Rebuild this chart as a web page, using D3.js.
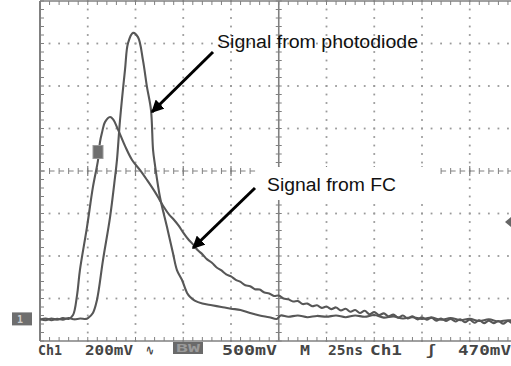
<!DOCTYPE html>
<html>
<head>
<meta charset="utf-8">
<script src="https://cdn.jsdelivr.net/npm/d3@7"></script>
<style>
  html, body { margin: 0; padding: 0; background: #fff; }
  svg { display: block; }
</style>
</head>
<body>
<svg id="chart" width="511" height="366"></svg>
<script>
// ---- data (time in ns, 25 ns/div; amplitude in screen divisions) ----
const photodiodeTime = [0, 3, 6, 9, 12, 15, 18, 21, 24, 25.1, 27.7, 29.8, 33.0, 36.7, 39.3, 40.3, 41.9, 44.5, 46.1, 48.7, 51.3, 53.9, 56.0, 58.1, 59.2, 60.2, 62.8, 66.5, 69.6, 71.7, 74.3, 77.0, 78.5, 81, 85, 90, 95, 100, 105, 110, 115, 120, 124, 126, 130, 135, 140, 145, 150, 155, 160, 165, 170, 175, 180, 185, 190, 195, 200, 205, 210, 215, 220, 225, 230, 235, 240, 245, 250];
const photodiodeDiv  = [0.50, 0.53, 0.49, 0.52, 0.50, 0.54, 0.51, 0.53, 0.52, 0.54, 0.66, 0.96, 1.91, 2.92, 3.86, 4.26, 5.20, 6.38, 7.01, 7.25, 7.15, 6.61, 5.98, 5.44, 4.49, 4.14, 3.39, 2.68, 2.07, 1.67, 1.44, 1.13, 1.04, 0.95, 0.88, 0.84, 0.80, 0.76, 0.73, 0.66, 0.60, 0.56, 0.52, 0.60, 0.57, 0.60, 0.56, 0.59, 0.57, 0.60, 0.56, 0.60, 0.57, 0.61, 0.55, 0.58, 0.53, 0.56, 0.52, 0.55, 0.50, 0.54, 0.49, 0.52, 0.47, 0.51, 0.46, 0.49, 0.46];

const fcTime = [0, 3, 6, 9, 12, 15, 17.3, 19.4, 20.9, 24.6, 27.7, 30.4, 31.4, 32.5, 34.0, 36.7, 38.2, 40.8, 44.5, 48.2, 52.4, 56.0, 60, 62.5, 65, 67.5, 70, 72.5, 75, 77.5, 80, 82.5, 85, 87.5, 90, 92.5, 95, 97.5, 100, 102.5, 105, 107.5, 110, 112.5, 115, 117.5, 120, 122.5, 125, 127.5, 130, 132.5, 135, 137.5, 140, 142.5, 145, 147.5, 150, 152.5, 155, 157.5, 160, 162.5, 165, 167.5, 170, 172.5, 175, 177.5, 180, 182.5, 185, 187.5, 190, 192.5, 195, 197.5, 200, 202.5, 205, 207.5, 210, 212.5, 215, 217.5, 220, 222.5, 225, 227.5, 230, 232.5, 235, 237.5, 240, 242.5, 245, 247.5, 250];
const fcDiv  = [0.52, 0.49, 0.53, 0.50, 0.54, 0.52, 0.61, 1.08, 1.67, 2.68, 3.62, 4.26, 4.68, 4.91, 5.15, 5.27, 5.22, 4.98, 4.59, 4.26, 4.02, 3.79, 3.52, 3.33, 3.14, 2.98, 2.86, 2.72, 2.55, 2.40, 2.28, 2.14, 2.04, 1.92, 1.84, 1.73, 1.66, 1.57, 1.52, 1.44, 1.39, 1.31, 1.29, 1.22, 1.21, 1.14, 1.12, 1.06, 1.07, 1.00, 0.98, 0.93, 0.94, 0.87, 0.88, 0.82, 0.84, 0.78, 0.81, 0.75, 0.79, 0.72, 0.76, 0.69, 0.73, 0.66, 0.71, 0.63, 0.68, 0.61, 0.65, 0.58, 0.62, 0.55, 0.60, 0.53, 0.58, 0.51, 0.56, 0.50, 0.55, 0.48, 0.53, 0.47, 0.52, 0.46, 0.51, 0.44, 0.50, 0.43, 0.49, 0.42, 0.48, 0.42, 0.47, 0.41, 0.47, 0.42, 0.46];

const statusLabels = ["Ch1", "200mV", "\u223F", "500mV", "M", "25ns", "Ch1", "\u0283", "470mV"];
const annotationLabels = ["Signal from photodiode", "Signal from FC"];

// ---- layout ----
const svg = d3.select("#chart");
const divW = 47.75, divH = 42.5;
const plotLeft = 40, plotTop = 1;
const x = d3.scaleLinear().domain([0, 250]).range([plotLeft, plotLeft + 10 * divW]);
const y = d3.scaleLinear().domain([0, 8]).range([plotTop + 8 * divH, plotTop]);
const gridCol = "#9a9a9a", axisCol = "#808080";

const g = svg.append("g");

// dotted grid
const minorT = d3.range(0, 250.01, 5);
const minorD = d3.range(0, 8.01, 0.2);
[1, 2, 3, 4, 6, 7, 8, 9].forEach(i => {
  g.selectAll(null).data(minorD).join("rect")
    .attr("x", x(i * 25) - 0.9).attr("y", d => y(d) - 0.9)
    .attr("width", 1.8).attr("height", 1.8).attr("fill", gridCol);
});
[1, 2, 3, 5, 6, 7].forEach(j => {
  g.selectAll(null).data(minorT).join("rect")
    .attr("x", d => x(d) - 0.9).attr("y", y(j) - 0.9)
    .attr("width", 1.8).attr("height", 1.8).attr("fill", gridCol);
});

// border lines
g.append("line").attr("x1", x(0)).attr("x2", x(0)).attr("y1", y(0)).attr("y2", y(8))
  .attr("stroke", axisCol).attr("stroke-width", 2);
g.append("line").attr("x1", x(0)).attr("x2", 511).attr("y1", y(8)).attr("y2", y(8))
  .attr("stroke", axisCol).attr("stroke-width", 1.5);
g.append("line").attr("x1", x(0)).attr("x2", 511).attr("y1", y(0)).attr("y2", y(0))
  .attr("stroke", axisCol).attr("stroke-width", 1.5);

// border ticks
g.selectAll(null).data(minorD).join("line")
  .attr("x1", x(0)).attr("x2", x(0) + 4).attr("y1", d => y(d)).attr("y2", d => y(d))
  .attr("stroke", axisCol).attr("stroke-width", 1);
g.selectAll(null).data(minorT).join("line")
  .attr("x1", d => x(d)).attr("x2", d => x(d)).attr("y1", y(8)).attr("y2", y(8) + 4)
  .attr("stroke", axisCol).attr("stroke-width", 1);
g.selectAll(null).data(minorT).join("line")
  .attr("x1", d => x(d)).attr("x2", d => x(d)).attr("y1", y(0)).attr("y2", y(0) - 4)
  .attr("stroke", axisCol).attr("stroke-width", 1);

// center axes
g.append("line").attr("x1", x(125)).attr("x2", x(125)).attr("y1", y(0)).attr("y2", y(8))
  .attr("stroke", axisCol).attr("stroke-width", 1.6);
g.selectAll(null).data(minorD).join("line")
  .attr("x1", x(125) - 3).attr("x2", x(125) + 3).attr("y1", d => y(d)).attr("y2", d => y(d))
  .attr("stroke", axisCol).attr("stroke-width", 1);
g.append("line").attr("x1", x(0)).attr("x2", 511).attr("y1", y(4)).attr("y2", y(4))
  .attr("stroke", axisCol).attr("stroke-width", 1).attr("stroke-dasharray", "5,4.55");
g.selectAll(null).data(minorT).join("line")
  .attr("x1", d => x(d)).attr("x2", d => x(d)).attr("y1", y(4) - 3).attr("y2", y(4) + 3)
  .attr("stroke", axisCol).attr("stroke-width", 1);
[0, 1, 2, 3, 4, 5, 6, 7, 8, 9, 10].forEach(i => {
  g.append("line").attr("x1", x(i * 25)).attr("x2", x(i * 25)).attr("y1", y(4) - 5).attr("y2", y(4) + 5)
    .attr("stroke", axisCol).attr("stroke-width", 1.2);
});

// traces
const line = d3.line().x(d => x(d[0])).y(d => y(d[1])).curve(d3.curveCatmullRom.alpha(0.5));
const pdData = photodiodeTime.map((t, i) => [t, photodiodeDiv[i]]);
const fcData = fcTime.map((t, i) => [t, fcDiv[i]]);
svg.append("clipPath").attr("id", "clip").append("rect")
  .attr("x", x(0)).attr("y", 0).attr("width", 511 - x(0)).attr("height", 366);
const traceG = svg.append("g").attr("clip-path", "url(#clip)");
traceG.append("path").datum(fcData).attr("d", line)
  .attr("fill", "none").attr("stroke", "#575757").attr("stroke-width", 2.1).attr("stroke-linejoin", "round");
traceG.append("path").datum(pdData).attr("d", line)
  .attr("fill", "none").attr("stroke", "#575757").attr("stroke-width", 2.1).attr("stroke-linejoin", "round");

// markers
svg.append("rect").attr("x", 12).attr("y", y(0.52) - 6.5).attr("width", 20).attr("height", 13)
  .attr("fill", "#6e6e6e");
svg.append("text").attr("x", 17).attr("y", y(0.52) + 4).text("1")
  .attr("font-family", "DejaVu Sans Mono").attr("font-size", 10).attr("font-weight", "bold").attr("fill", "#cfcfcf");
svg.append("rect").attr("x", 93).attr("y", y(4.6)).attr("width", 10).attr("height", 13)
  .attr("fill", "#6e6e6e").attr("stroke", "#9a9a9a").attr("stroke-width", 1);
svg.append("path").attr("d", `M511,${y(2.8) - 5} L505,${y(2.8)} L511,${y(2.8) + 5} Z`).attr("fill", "#666");

// status line
const statusX = [38, 85, 146, 222, 300, 328, 370, 426, 458];
const statusW = [24, 48, 8, 55, 10, 35, 32, 10, 53];
const statusG = svg.append("g").attr("font-family", "DejaVu Sans Mono").attr("font-weight", "bold")
  .attr("font-size", 14).attr("fill", "#454545");
statusLabels.forEach((s, i) => {
  statusG.append("text").attr("x", statusX[i]).attr("y", 355).text(s)
    .attr("textLength", statusW[i]).attr("lengthAdjust", "spacingAndGlyphs");
});
svg.append("rect").attr("x", 173).attr("y", 342).attr("width", 30).attr("height", 12).attr("fill", "#6a6a6a");
svg.append("text").attr("x", 176).attr("y", 352).text("BW")
  .attr("font-family", "DejaVu Sans Mono").attr("font-weight", "bold").attr("font-size", 10)
  .attr("fill", "#9a9a9a").attr("textLength", 24).attr("lengthAdjust", "spacingAndGlyphs");

// annotations
const defs = svg.append("defs");
defs.append("marker").attr("id", "ah").attr("viewBox", "0 0 10 10").attr("refX", 9).attr("refY", 5)
  .attr("markerWidth", 4.2).attr("markerHeight", 4.2).attr("markerUnits", "strokeWidth").attr("orient", "auto")
  .append("path").attr("d", "M0,0 L10,5 L0,10 Z").attr("fill", "#000");

svg.append("rect").attr("x", 259).attr("y", 167).attr("width", 178).attr("height", 33).attr("fill", "#fff");

svg.append("line").attr("x1", 213).attr("y1", 52).attr("x2", 152).attr("y2", 112)
  .attr("stroke", "#000").attr("stroke-width", 3).attr("marker-end", "url(#ah)");
svg.append("line").attr("x1", 255).attr("y1", 188).attr("x2", 193).attr("y2", 248)
  .attr("stroke", "#000").attr("stroke-width", 3).attr("marker-end", "url(#ah)");

svg.append("text").attr("x", 217).attr("y", 48).text(annotationLabels[0])
  .attr("font-family", "Liberation Sans, Arial, sans-serif").attr("font-size", 17.5).attr("fill", "#111")
  .attr("textLength", 201).attr("lengthAdjust", "spacingAndGlyphs");
svg.append("text").attr("x", 267).attr("y", 191).text(annotationLabels[1])
  .attr("font-family", "Liberation Sans, Arial, sans-serif").attr("font-size", 18).attr("fill", "#111")
  .attr("textLength", 129).attr("lengthAdjust", "spacingAndGlyphs");
</script>
</body>
</html>
